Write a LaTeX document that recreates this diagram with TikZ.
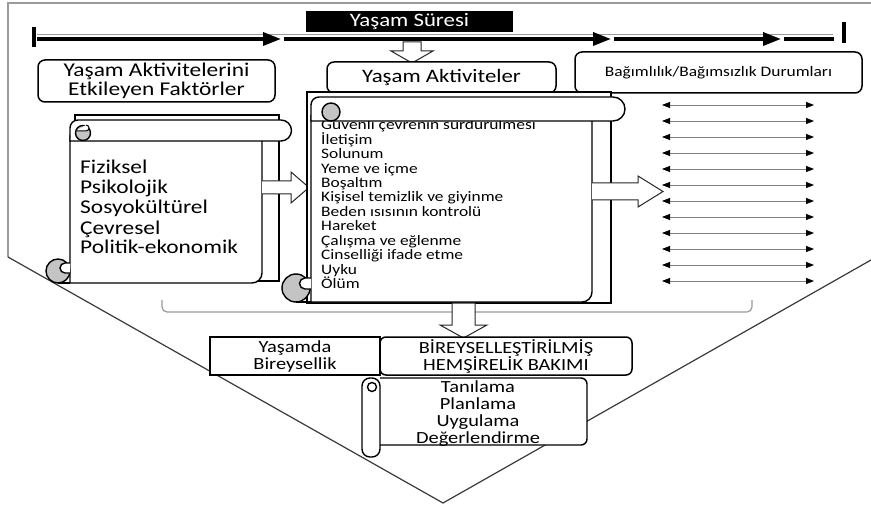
\documentclass[tikz,border=0pt]{standalone}
\usepackage{fontspec}
\setmainfont[FakeStretch=1.2]{Carlito}
\usetikzlibrary{arrows.meta}
\definecolor{curlgray}{HTML}{C4C4C4}
\definecolor{vline}{HTML}{3A3A3A}
\definecolor{frameg}{HTML}{9A9A9A}
\newcommand{\fsz}[2]{\fontsize{#1}{#2}\selectfont}
\tikzset{
  sline/.style={line width=1.4pt, black},
  rbox/.style={draw, line width=1.5pt, rounded corners=7pt, fill=white, inner sep=0pt, align=center},
  sbox/.style={draw, line width=1.5pt, fill=white, inner sep=0pt, align=center},
  hollow/.style={draw=black!85, line width=1pt, fill=white},
  darr/.style={draw=gray, line width=0.8pt, {Triangle[length=8pt,width=6pt,color=black]}-{Triangle[length=8pt,width=6pt,color=black]}},
  tline/.style={line width=3.5pt, -{Triangle[length=18pt,width=13pt]}},
  listtxt/.style={anchor=base west, inner sep=0pt},
  ctxt/.style={anchor=base, inner sep=0pt}
}
\begin{document}
\begin{tikzpicture}[x=1pt,y=-1pt]
\useasboundingbox (0,0) rectangle (871,508);
\fill[white] (0,0) rectangle (871,508);
% frame and V
\draw[frameg, line width=1.3pt] (8,257) -- (8,3) -- (871,3);
\draw[vline, line width=1.2pt] (8,257) -- (443,503) -- (871,260);
% timeline
\draw[line width=4pt] (34,27) -- (34,47);
\draw[line width=4pt] (844,22) -- (844,43);
\draw[frameg, line width=0.8pt] (37,34) -- (833,34);
\coordinate (t0) at (37,39);
\coordinate (t1) at (281,39);
\coordinate (t1b) at (284,39);
\coordinate (t2) at (611,39);
\coordinate (t2b) at (614,39);
\coordinate (t3) at (781,39);
\coordinate (t3b) at (784,39);
\coordinate (t4) at (834,39);
\draw[tline] (t0) -- (t1);
\draw[tline] (t1b) -- (t2);
\draw[tline] (t2b) -- (t3);
\draw[line width=3.5pt] (t3b) -- (t4);
% title
\node[fill=black, text=white, minimum width=207pt, minimum height=21pt, inner sep=0pt, font=\fsz{19}{19}] (title) at (409.5,22) {Yaşam Süresi};
% arrow down from timeline
\draw[hollow] (403,42) -- (421,42) -- (421,51) -- (433,51) -- (412,63) -- (391,51) -- (403,51) -- cycle;
% top boxes
\node[rbox, minimum width=237pt, minimum height=42pt, font=\fsz{19.5}{19}] (faktor) at (156.5,81) {Yaşam Aktivitelerini\\Etkileyen Faktörler};
\node[rbox, minimum width=229pt, minimum height=31pt, font=\fsz{19}{19}] (aktiv) at (441.5,77.5) {Yaşam Aktiviteler};
\node[rbox, minimum width=287pt, minimum height=41pt, font=\fsz{14.5}{15}] (bagim) at (718.5,72.5) {Bağımlılık/Bağımsızlık Durumları};
% bracket
\draw[frameg, line width=1.2pt, rounded corners=5pt] (162,300) -- (162,312) -- (752,312) -- (752,300);
% ---------- left scroll ----------
\draw[sline, fill=white] (75,115) rectangle (279,281);
\draw[sline, fill=white] (70,135) -- (70,283) -- (252,283) arc(90:0:10) -- (262,135);
\draw[sline, fill=curlgray] (58,271) circle (12);
\draw[sline, fill=white] (70,263) -- (65,263) arc(270:90:5) -- (70,273);
\draw[sline] (58,283) -- (70,283);
\draw[sline, fill=white] (70,141) -- (70,128) arc(180:270:8) -- (281,120) arc(270:450:10.5) -- cycle;
\draw[sline, fill=curlgray] (83,133) circle (7.5);
\draw[line width=1pt, fill=white] (76,131) -- (86,131) arc(270:90:-3) ;
\foreach \t [count=\i] in {Fiziksel,Psikolojik,Sosyokültürel,Çevresel,Politik-ekonomik}
  \node[listtxt, font=\fsz{19.5}{20}] (f\i) at (80,{174+20*(\i-1)}) {\t};
% arrow left -> middle
\path[fill=white] (262,181) -- (291,181) -- (291,172) -- (309,187.5) -- (291,203) -- (291,194) -- (262,194) -- cycle;
\draw[draw=black!85, line width=1pt] (262,181) -- (291,181) -- (291,172) -- (309,187.5) -- (291,203) -- (291,194) -- (262,194);
% ---------- middle scroll ----------
\draw[sline, fill=white] (307,92) rectangle (611,303);
\draw[sline, fill=white] (311,115) -- (311,302) -- (582,302) arc(90:0:10) -- (592,115);
\foreach \t [count=\i] in {Güvenli çevrenin sürdürülmesi,İletişim,Solunum,Yeme ve içme,Boşaltım,Kişisel temizlik ve giyinme,Beden ısısının kontrolü,Hareket,Çalışma ve eğlenme,Cinselliği ifade etme,Uyku,Ölüm}
  \node[listtxt, font=\fsz{14.5}{14.4}] (m\i) at (321,{130+14.4*(\i-1)}) {\t};
\draw[sline, fill=white] (311,121) -- (311,105) arc(180:270:8) -- (613,97) arc(270:450:12) -- cycle;
\draw[sline, fill=curlgray] (331,112) circle (9);
\draw[sline, fill=curlgray] (296,288) circle (14);
\draw[sline, fill=white] (311,278) -- (305,278) arc(270:90:5.5) -- (311,289);
\draw[sline] (296,302) -- (311,302);
% arrow middle -> right
\path[fill=white] (592,183) -- (638,183) -- (638,176) -- (663,191.5) -- (638,207) -- (638,200) -- (592,200) -- cycle;
\draw[draw=black!85, line width=1pt] (592,183) -- (638,183) -- (638,176) -- (663,191.5) -- (638,207) -- (638,200) -- (592,200);
% double arrows
\foreach \i in {1,...,12} {
  \coordinate (dl\i) at (662,{105+16*(\i-1)});
  \coordinate (dr\i) at (814,{105+16*(\i-1)});
  \draw[darr] (dl\i) -- (dr\i);
}
% arrow down to bottom
\draw[hollow] (452,303) -- (475,303) -- (475,325) -- (487,325) -- (463.5,338) -- (440,325) -- (452,325) -- cycle;
% bottom boxes
\node[sbox, minimum width=170pt, minimum height=38pt, font=\fsz{17}{17}] (birey) at (295,356) {Yaşamda\\Bireysellik};
\node[rbox, rounded corners=6pt, minimum width=252pt, minimum height=38pt, font=\fsz{17}{17}] (bakim) at (506,356) {BİREYSELLEŞTİRİLMİŞ\\HEMŞİRELİK BAKIMI};
% lower vertical scroll
\draw[sline, fill=white] (380,378) -- (581,378) arc(270:360:6) -- (587,439) arc(0:90:6) -- (380,445);
\draw[sline, fill=white, rounded corners=8pt] (362,378) rectangle (380,457);
\draw[sline] (372,387) circle (4.5);
\foreach \t [count=\i] in {Tanılama,Planlama,Uygulama,Değerlendirme}
  \node[ctxt, font=\fsz{17}{17}] (s\i) at (478,{392+17*(\i-1)}) {\t};
\end{tikzpicture}
\end{document}
